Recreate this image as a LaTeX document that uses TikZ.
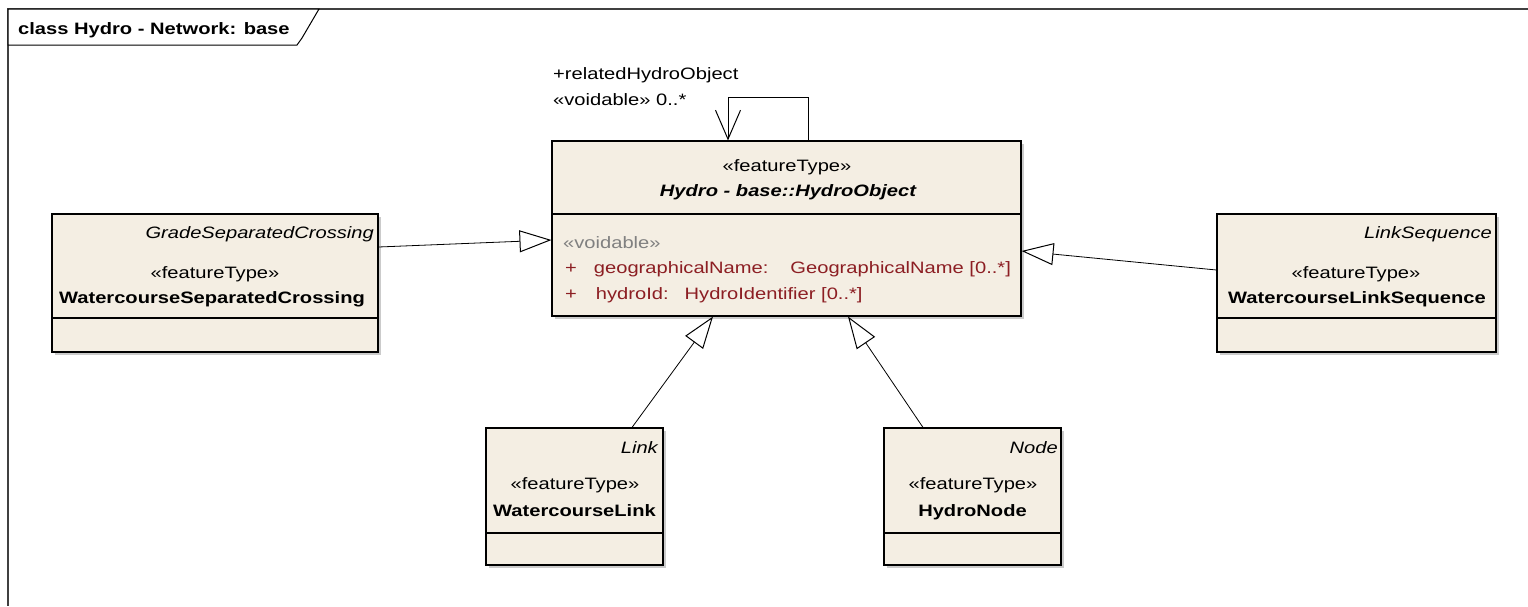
\documentclass[tikz,border=0pt]{standalone}
\usepackage{fontspec}
\setmainfont[FakeStretch=1.22]{Liberation Sans}
\usetikzlibrary{arrows.meta,shadows}
\definecolor{boxfill}{RGB}{244,238,227}
\definecolor{attr}{RGB}{140,30,35}
\definecolor{stereo}{RGB}{128,128,128}
\newcommand{\dfont}{\fontsize{16.5}{20}\selectfont}
\begin{document}
\begin{tikzpicture}[x=1pt,y=-1pt,
  cls/.style={draw=black, line width=1.1pt, fill=boxfill, inner sep=0pt,
    drop shadow={shadow xshift=3pt,shadow yshift=-3pt,fill=black!40,opacity=0.5}},
  txt/.style={inner sep=0pt, font=\dfont, anchor=base},
  gen/.style={draw=black, line width=0.8pt, -{Triangle[open,length=32pt,width=22pt,line width=1pt]}},
  assoc/.style={draw=black, line width=0.8pt, -{Straight Barb[length=29pt,width=25pt,line width=1pt]}},
  divider/.style={line width=1.1pt}
]
\useasboundingbox (0,0) rectangle (1528,606);
\fill[white] (0,0) rectangle (1528,606);
% frame
\draw[line width=1.6pt, black!75] (1528,9) -- (8,9) -- (8,606);
\draw[line width=1pt, fill=white] (8,9) -- (319,9) -- (302,38) -- (297,45) -- (8,45) -- cycle;
\node[txt, anchor=base west, font=\dfont\bfseries] (title) at (18,34) {class Hydro - Network: base};

% HydroObject
\node[cls, minimum width=469pt, minimum height=175pt] (ho) at (786.5,228.5) {};
\draw[divider] (552,214) -- (1021,214);
\node[txt] (hoS) at (787,171) {«featureType»};
\node[txt, font=\dfont\bfseries\itshape] (hoN) at (788,196) {Hydro - base::HydroObject};
\node[txt, anchor=base west, text=stereo] (hoV) at (563,248) {«voidable»};
\node[txt, anchor=base west, text=attr] (hoA1) at (565,273) {+\hspace{17pt}geographicalName:\hspace{22pt}GeographicalName [0..*]};
\node[txt, anchor=base west, text=attr] (hoA2) at (565,299) {+\hspace{19pt}hydroId:\hspace{16pt}HydroIdentifier [0..*]};

% GradeSeparatedCrossing
\node[cls, minimum width=326pt, minimum height=138pt] (gsc) at (215,283) {};
\draw[divider] (52,318) -- (378,318);
\node[txt, anchor=base east, font=\dfont\itshape] (gscP) at (374,238) {GradeSeparatedCrossing};
\node[txt] (gscS) at (215,278) {«featureType»};
\node[txt, font=\dfont\bfseries] (gscN) at (212,303) {WatercourseSeparatedCrossing};

% WatercourseLinkSequence
\node[cls, minimum width=279pt, minimum height=138pt] (wls) at (1356.5,283) {};
\draw[divider] (1217,318) -- (1496,318);
\node[txt, anchor=base east, font=\dfont\itshape] (wlsP) at (1492,238) {LinkSequence};
\node[txt] (wlsS) at (1356,278) {«featureType»};
\node[txt, font=\dfont\bfseries] (wlsN) at (1357,303) {WatercourseLinkSequence};

% WatercourseLink
\node[cls, minimum width=177pt, minimum height=137pt] (wl) at (574.5,496.5) {};
\draw[divider] (486,533) -- (663,533);
\node[txt, anchor=base east, font=\dfont\itshape] (wlP) at (658,453) {Link};
\node[txt] (wlS) at (575,489) {«featureType»};
\node[txt, font=\dfont\bfseries] (wlN) at (574.5,516) {WatercourseLink};

% HydroNode
\node[cls, minimum width=177pt, minimum height=137pt] (hn) at (972.5,496.5) {};
\draw[divider] (884,533) -- (1061,533);
\node[txt, anchor=base east, font=\dfont\itshape] (hnP) at (1058,453) {Node};
\node[txt] (hnS) at (973,489) {«featureType»};
\node[txt, font=\dfont\bfseries] (hnN) at (972.5,516) {HydroNode};

% generalizations
\draw[gen] ([yshift=36pt]gsc.east) -- ([yshift=-11.5pt]ho.west);
\draw[gen] ([yshift=13pt]wls.west) -- ([yshift=-22.5pt]ho.east);
\draw[gen] ([xshift=57.5pt]wl.north) -- ([xshift=-73.5pt]ho.south);
\draw[gen] ([xshift=-49.5pt]hn.north) -- ([xshift=61.5pt]ho.south);

% self association
\draw[assoc] ([xshift=21.5pt]ho.north) -- ++(0,-43) -| ([xshift=-58.5pt]ho.north);
\node[txt, anchor=base west] (r1) at (553,79) {+relatedHydroObject};
\node[txt, anchor=base west] (r2) at (553,105) {«voidable» 0..*};
\end{tikzpicture}
\end{document}
